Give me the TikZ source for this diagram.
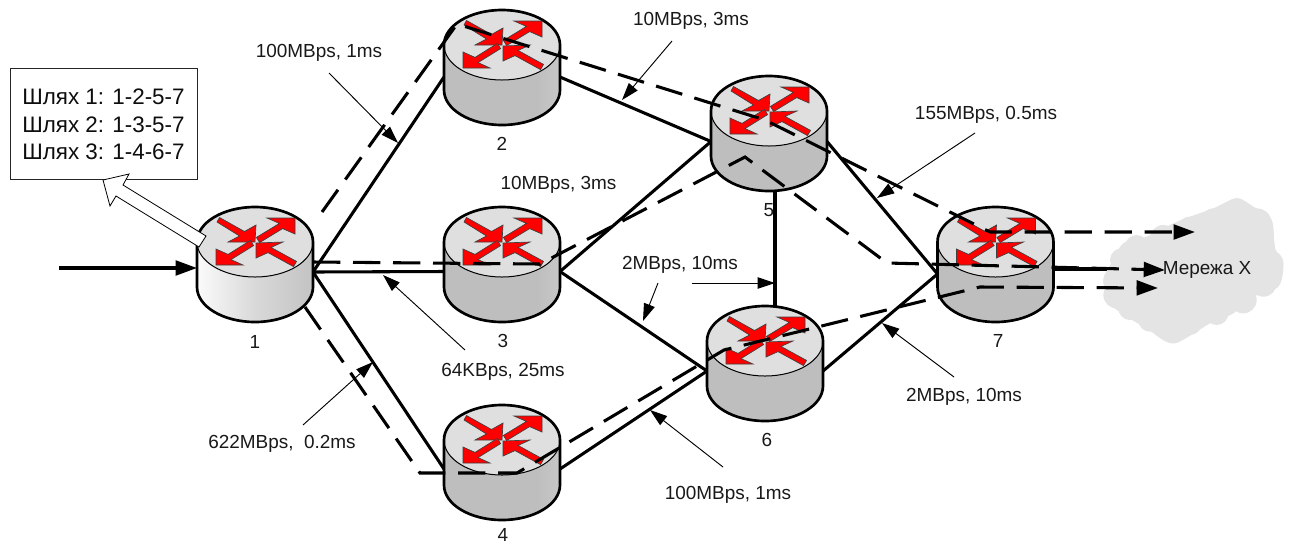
\documentclass[tikz,border=0pt]{standalone}
\usepackage{fontspec}
\setmainfont{Liberation Sans}
\usetikzlibrary{arrows.meta,calc}
\definecolor{rtop}{HTML}{DFDFDF}
\definecolor{rbody}{HTML}{BEBEBE}
\definecolor{cloudgray}{HTML}{E4E4E4}
\pgfdeclarehorizontalshading{bodywhite}{100bp}{color(0bp)=(rtop); color(22bp)=(white); color(50bp)=(white!85!black); color(100bp)=(black!32)}
\pgfdeclarehorizontalshading{bodylight}{100bp}{color(0bp)=(rbody); color(65bp)=(rbody); color(100bp)=(rtop)}
\pgfdeclarehorizontalshading{bodyflat}{100bp}{color(0bp)=(rbody); color(100bp)=(rbody)}
\tikzset{
  port/.style={minimum width=87pt,minimum height=0pt,inner sep=0pt,outer sep=0pt},
  link/.style={line width=2.3pt},
  route/.style={line width=2.3pt,dash pattern=on 20.5pt off 9.5pt,-{Triangle[length=16pt,width=11pt]}},
  note/.style={line width=0.7pt,-{Triangle[length=13pt,width=8.5pt]}},
  lab/.style={font=\fontsize{14.2}{17}\selectfont,inner sep=0pt,text=black!90},
  boxlab/.style={font=\fontsize{16.8}{20}\selectfont,inner sep=0pt,text=black!95},
  redarrow/.style={fill=red,draw=black!75,line width=0.5pt,line join=miter},
}
\newcommand{\routershape}[3]{%
  \begin{scope}[shift={(#1,#2)}]
    \shade[shading=#3] (-58,0) -- (-58,45) arc[start angle=180,end angle=0,x radius=58,y radius=35] -- (58,0) arc[start angle=0,end angle=-180,x radius=58,y radius=35] -- cycle;
    \draw[fill=rtop,line width=0.75pt] (0,0) ellipse[x radius=58,y radius=35];
    \draw[line width=2pt,line join=round] (-58,0) -- (-58,45) arc[start angle=180,end angle=0,x radius=58,y radius=35] -- (58,0) arc[start angle=0,end angle=-180,x radius=58,y radius=35] -- cycle;
    \draw[redarrow] (-35.5,-24.5) -- (-10.5,-10.5) -- (1,-17) -- (0,0) -- (-27,0) -- (-15.5,-6) -- (-38,-20) -- cycle;
    \draw[redarrow] (1.4,-4.6) -- (24.4,-18.6) -- (12,-24) -- (40,-24) -- (40,-8) -- (27.6,-13.4) -- (4.6,0.6) -- cycle;
    \draw[redarrow] (-4.6,-1.6) -- (-27,12.4) -- (-39,7) -- (-39,23) -- (-12,23) -- (-24,17.6) -- (-1.4,3.6) -- cycle;
    \draw[redarrow] (1,1) -- (28,0) -- (16,5.4) -- (41.5,19.4) -- (38.5,24.6) -- (13,10.6) -- (1,16) -- cycle;
  \end{scope}}
\begin{document}
\begin{tikzpicture}[x=0.75pt,y=-0.75pt]
\useasboundingbox (0,0) rectangle (1291,544);
\fill[white] (0,0) rectangle (1291,544);

\node[port] (r1) at (255,272) {};
\node[port] (r2) at (502,77) {};
\node[port] (r3) at (502,271.5) {};
\node[port] (r4) at (502,469) {};
\node[port] (r5) at (769,141.5) {};
\node[port] (r6) at (765,371) {};
\node[port] (r7) at (995.5,274) {};
\coordinate (in) at (59,268);
\coordinate (in1) at (197,268);
\coordinate (r5b) at (775,190);
\coordinate (r6t) at (775,307);
\coordinate (r7c) at (1053,269);
\coordinate (cl) at (1110,269);

\draw[link] (r1.east) -- (r2.west);
\draw[link] (r1.east) -- (r3.west);
\draw[link] (r1.east) -- (r4.west);
\draw[link] (r2.east) -- (r5.west);
\draw[link] (r3.east) -- (r5.west);
\draw[link] (r3.east) -- (r6.west);
\draw[link] (r4.east) -- (r6.west);
\draw[link] (r5.east) -- (r7.west);
\draw[link] (r6.east) -- (r7.west);
\draw[link] (r5b) -- (r6t);
\draw[link] (r7c) -- (cl);
\draw[link,-{Triangle[length=16pt,width=11pt]}] (in) -- (in1);

\routershape{255}{242}{bodywhite}
\routershape{502}{45}{bodylight}
\routershape{502}{242}{bodylight}
\routershape{502}{440}{bodylight}
\routershape{769}{111}{bodyflat}
\routershape{765}{341}{bodyflat}
\routershape{995.5}{242}{bodyflat}

\begin{scope}[shift={(880,180)},x=0.25pt,y=-0.25pt]
  \fill[cloudgray] plot[smooth cycle] coordinates {(670,300)(700,240)(730,190)(800,170)(880,130)(930,110)(1000,85)(1070,55)(1120,80)(1175,120)(1185,205)(1210,250)(1195,320)(1120,350)(1060,400)(990,430)(880,490)(800,445)(740,410)(690,370)};
  \foreach \px/\py/\pr in {705/300/35,725/240/35,770/200/35,850/175/40,930/150/40,1000/120/35,1070/95/40,1130/130/45,1150/200/35,1170/250/40,1150/310/40,1090/360/40,1010/400/35,930/430/35,880/450/40,810/420/35,750/385/35,710/345/40}
    \fill[cloudgray] (\px,\py) circle[radius=\pr];
\end{scope}

\coordinate (a0) at (322,212);
\coordinate (a1) at (457,24);
\coordinate (a2) at (765,120);
\coordinate (a3) at (990,232);
\coordinate (a4) at (1195,232);
\coordinate (b0) at (313,262);
\coordinate (b1) at (540,264);
\coordinate (b2) at (745,157);
\coordinate (b3) at (887,263);
\coordinate (b4) at (1165,270);
\coordinate (c0) at (305,307);
\coordinate (c1) at (420,473);
\coordinate (c2) at (517,473);
\coordinate (c3) at (724,350);
\coordinate (c4) at (980,287);
\coordinate (c5) at (1158,288);
\draw[route] (a0) -- (a1) -- (a2) -- (a3) -- (a4);
\draw[route] (b0) -- (b1) -- (b2) -- (b3) -- (b4);
\draw[route] (c0) -- (c1) -- (c2) -- (c3) -- (c4) -- (c5);

\node[lab] (l1) at (319,53) {100MBps, 1ms};
\node[lab] (l2) at (691,21) {10MBps, 3ms};
\node[lab] (l3) at (558.5,185) {10MBps, 3ms};
\node[lab] (l4) at (986,115) {155MBps, 0.5ms};
\node[lab] (l5) at (680,265) {2MBps, 10ms};
\node[lab] (l6) at (503,372) {64KBps, 25ms};
\node[lab] (l7) at (964,397) {2MBps, 10ms};
\node[lab] (l8) at (728,495) {100MBps, 1ms};
\node[lab] (l9) at (282,444) {622MBps,\ \ 0.2ms};
\node[lab] (n1) at (255,342) {1};
\node[lab] (n2) at (502,144) {2};
\node[lab] (n3) at (503,341) {3};
\node[lab] (n4) at (503,534.5) {4};
\node[lab] (n5) at (769,210) {5};
\node[lab] (n6) at (767,440) {6};
\node[lab] (n7) at (998,341) {7};
\node[lab] (netx) at (1207,270) {Мережа Х};

\coordinate (s1) at (329,73);   \coordinate (e1) at (398,143);
\coordinate (s2) at (672,41);   \coordinate (e2) at (622,100);
\coordinate (s4) at (975,133);  \coordinate (e4) at (877,198);
\coordinate (s6) at (465,350);  \coordinate (e6) at (383,275);
\coordinate (s5a) at (658,283); \coordinate (e5a) at (643,321);
\coordinate (s5b) at (692,283); \coordinate (e5b) at (775,283);
\coordinate (s7) at (954,377);  \coordinate (e7) at (882,323);
\coordinate (s9) at (303,425);  \coordinate (e9) at (373,362);
\coordinate (s8) at (723,467);  \coordinate (e8) at (650,410);
\draw[note] (s1) -- (e1);
\draw[note] (s2) -- (e2);
\draw[note] (s4) -- (e4);
\draw[note] (s6) -- (e6);
\draw[note] (s5a) -- (e5a);
\draw[note] (s5b) -- (e5b);
\draw[note] (s7) -- (e7);
\draw[note] (s9) -- (e9);
\draw[note] (s8) -- (e8);

\node[draw=black!85,fill=white,line width=0.8pt,minimum width=140pt,minimum height=83.5pt,inner sep=0pt,anchor=north west] (box) at (10,68) {};
\node[boxlab,anchor=west] (t1) at (22,97) {Шлях 1: 1-2-5-7};
\node[boxlab,anchor=west] (t2) at (22,124.5) {Шлях 2: 1-3-5-7};
\node[boxlab,anchor=west] (t3) at (22,152) {Шлях 3: 1-4-6-7};

\draw[fill=white,line width=0.6pt,line join=miter] (103,180) -- (129,174) -- (123,185) -- (206,236) -- (199,247) -- (116,196) -- (110,206) -- cycle;
\end{tikzpicture}
\end{document}
